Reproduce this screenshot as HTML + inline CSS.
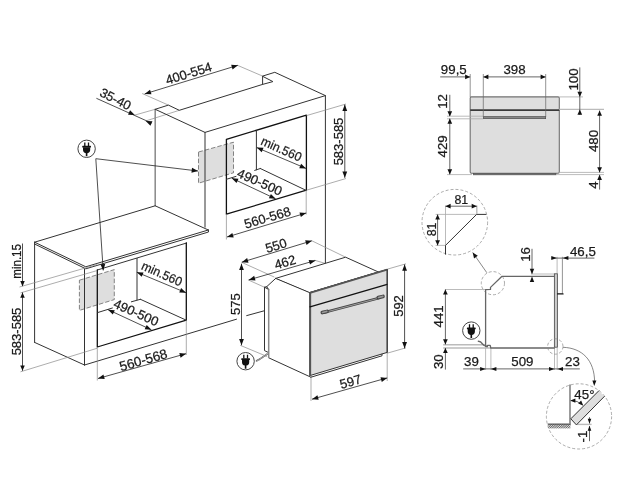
<!DOCTYPE html>
<html><head><meta charset="utf-8"><title>Oven installation dimensions</title>
<style>
html,body{margin:0;padding:0;background:#fff}
body{width:626px;height:500px;overflow:hidden}
svg{display:block;will-change:transform;opacity:0.999}
text{font-family:"Liberation Sans",Arial,Helvetica,sans-serif;fill:#1a1a1a;text-anchor:middle;stroke:#1a1a1a;stroke-width:0.25px}
.m{stroke:#333;stroke-width:1;fill:none;stroke-linecap:round;stroke-linejoin:round}
.k{stroke:#111;stroke-width:1.3;fill:none;stroke-linecap:round;stroke-linejoin:round}
.d{stroke:#222;stroke-width:0.8;fill:none}
.t{stroke:#8a8a8a;stroke-width:0.7;fill:none}
.a{fill:#111;stroke:none}
.dc{stroke:#888;stroke-width:0.7;fill:none;stroke-dasharray:3 2}
.g{fill:#dedede;stroke:#333;stroke-width:1;stroke-linejoin:round}
.s{fill:#dedede;stroke:#555;stroke-width:0.7;stroke-dasharray:4.5 2}
.k2{stroke:#555;stroke-width:1.9;fill:none}
.k3{stroke:#3a3a3a;stroke-width:1.7;fill:none}
.t6{stroke:#555;stroke-width:0.7;fill:none}
.g0{fill:#dedede;stroke:none}
.w{fill:#fff;stroke:none}
.t5{stroke:#666;stroke-width:0.7;fill:none}
.t4{stroke:#888;stroke-width:0.9;fill:none}
.gk{stroke:#888;stroke-width:1.5;fill:none}
.gk2{stroke:#666;stroke-width:1.3;fill:none;stroke-linejoin:round}
.dg{stroke:#666;stroke-width:1;fill:none}
.t2{stroke:#aaa;stroke-width:0.8;fill:none}
.t3{stroke:#bbb;stroke-width:1.4;fill:none}
</style></head><body>
<svg width="626" height="500" viewBox="0 0 626 500">
<rect width="626" height="500" fill="#fff"/>
<polygon class="s"  points="198.5,152 233.5,142.2 233.5,172.8 198.5,183.2"/>
<polygon class="s"  points="79.4,280.2 114.3,269.6 114.3,299.6 79.4,310.4"/>
<line class="t" x1="142.2" y1="93.5" x2="168.4" y2="105.1"/>
<line class="t" x1="134.8" y1="115.1" x2="155.2" y2="109.3"/>
<line class="t" x1="145.9" y1="120.9" x2="179.3" y2="110.3"/>
<line class="t" x1="237.7" y1="65.4" x2="262.6" y2="76.1"/>
<line class="gk" x1="155.2" y1="109.3" x2="155.2" y2="205.8"/>
<polyline class="m"  points="155.2,109.3 168.4,105.1 179.3,110.3 262.6,84.4 262.6,76.1 274.8,72.3 325.4,95.6 205,132.4 155.2,109.3"/>
<polyline class="m"  points="262.6,76.3 272.9,81.6 262.6,84.4"/>
<line class="m" x1="205" y1="132.4" x2="205" y2="227.2"/>
<line class="m" x1="325.4" y1="95.6" x2="325.4" y2="262.8"/>
<polygon class="k"  points="226.4,139.3 306.4,115.2 306.4,190.2 226.4,214.2"/>
<line class="m" x1="256.4" y1="130.8" x2="256.4" y2="169.8"/>
<line class="m" x1="260.3" y1="168.5" x2="306.2" y2="190.4"/>
<line class="m" x1="260.3" y1="168.5" x2="254.7" y2="170.4"/>
<line class="m" x1="236" y1="176.4" x2="226.4" y2="179.3"/>
<line class="d" x1="144.7" y1="93.9" x2="237.9" y2="65.3"/>
<polygon class="a"  points="237.9,65.3 232.58,69.44 231.17,64.85"/>
<polygon class="a"  points="144.7,93.9 150.02,89.76 151.43,94.35"/>
<text font-size="13" dy="0.36em" transform="translate(188.6 73.2) rotate(-17)">400-554</text>
<line class="d" x1="96.4" y1="98.3" x2="151.4" y2="123"/>
<polygon class="a"  points="134.8,115.1 128.07,114.71 130.04,110.33"/>
<polygon class="a"  points="145.7,120.9 152.43,121.29 150.46,125.67"/>
<text font-size="13" dy="0.36em" transform="translate(115.6 98.9) rotate(27)">35-40</text>
<line class="d" x1="256.8" y1="147.6" x2="306" y2="168.4"/>
<polygon class="a"  points="306,168.4 299.26,168.16 301.13,163.74"/>
<polygon class="a"  points="256.8,147.6 263.54,147.84 261.67,152.26"/>
<text font-size="12.6" dy="0.36em" transform="translate(281.5 148.8) rotate(24) scale(0.96 1)">min.560</text>
<line class="d" x1="231.8" y1="178.2" x2="275.6" y2="198.8"/>
<polygon class="a"  points="275.6,198.8 268.88,198.29 270.92,193.95"/>
<polygon class="a"  points="231.8,178.2 238.52,178.71 236.48,183.05"/>
<text font-size="13" dy="0.36em" transform="translate(259.8 181.9) rotate(24)">490-500</text>
<line class="t" x1="226.4" y1="214.2" x2="226.4" y2="239.5"/>
<line class="t" x1="306.2" y1="190.4" x2="306.2" y2="214.5"/>
<line class="d" x1="227" y1="237" x2="306.2" y2="213"/>
<polygon class="a"  points="306.2,213 300.87,217.12 299.47,212.53"/>
<polygon class="a"  points="227,237 232.33,232.88 233.73,237.47"/>
<text font-size="13" dy="0.36em" transform="translate(267.4 217.4) rotate(-16.5)">560-568</text>
<line class="t" x1="306.5" y1="115.6" x2="346" y2="104"/>
<line class="t" x1="306.5" y1="190.2" x2="346" y2="178.5"/>
<line class="d" x1="344.8" y1="104.6" x2="344.8" y2="177.8"/>
<polygon class="a"  points="344.8,177.8 342.4,171.5 347.2,171.5"/>
<polygon class="a"  points="344.8,104.6 347.2,110.9 342.4,110.9"/>
<text font-size="13" dy="0.36em" transform="translate(338.6 141.5) rotate(-90)">583-585</text>
<line class="m" x1="155.2" y1="205.8" x2="208.3" y2="230"/>
<polyline class="m"  points="34.6,242.2 155.2,205.8"/>
<polyline class="m"  points="34.6,242.2 85.8,266.8 208.3,230"/>
<polyline class="m"  points="34.6,244 85.8,268.8 208.5,232 208.3,230"/>
<line class="m" x1="34.6" y1="242.2" x2="34.6" y2="342.4"/>
<line class="m" x1="34.6" y1="342.4" x2="84.5" y2="365"/>
<line class="m" x1="84.5" y1="269" x2="84.5" y2="365"/>
<line class="m" x1="84.5" y1="365" x2="236.5" y2="319.2"/>
<line class="m" x1="246.7" y1="315.6" x2="264.2" y2="310.8"/>
<line class="m" x1="97.3" y1="270" x2="186.6" y2="243"/>
<polyline class="k"  points="97.3,270 97.3,347 186.3,320.2 186.3,243"/>
<line class="m" x1="137" y1="258.4" x2="137" y2="299.8"/>
<line class="m" x1="140.4" y1="299.3" x2="186.3" y2="320.2"/>
<line class="m" x1="140.4" y1="299.3" x2="131.4" y2="301.8"/>
<line class="m" x1="112.4" y1="308" x2="97.6" y2="312.6"/>
<line class="d" x1="136.8" y1="272.2" x2="186" y2="292.7"/>
<polygon class="a"  points="186,292.7 179.26,292.49 181.11,288.06"/>
<polygon class="a"  points="136.8,272.2 143.54,272.41 141.69,276.84"/>
<text font-size="12.6" dy="0.36em" transform="translate(162 273.5) rotate(24) scale(0.96 1)">min.560</text>
<line class="d" x1="108.1" y1="309.7" x2="151.4" y2="329.8"/>
<polygon class="a"  points="151.4,329.8 144.68,329.32 146.7,324.97"/>
<polygon class="a"  points="108.1,309.7 114.82,310.18 112.8,314.53"/>
<text font-size="13" dy="0.36em" transform="translate(136.2 312.4) rotate(24)">490-500</text>
<line class="t" x1="97.3" y1="347" x2="97.3" y2="380.5"/>
<line class="t" x1="186.3" y1="320.2" x2="186.3" y2="355"/>
<line class="d" x1="98" y1="378.5" x2="186" y2="353.7"/>
<polygon class="a"  points="186,353.7 180.59,357.72 179.29,353.1"/>
<polygon class="a"  points="98,378.5 103.41,374.48 104.71,379.1"/>
<text font-size="13.4" dy="0.36em" transform="translate(143.3 359.8) rotate(-16)">560-568</text>
<line class="t" x1="19.5" y1="287" x2="97" y2="264.6"/>
<line class="t" x1="20.5" y1="292.9" x2="97" y2="270.6"/>
<line class="t" x1="20.5" y1="371.8" x2="97" y2="348.3"/>
<line class="d" x1="22.5" y1="243.5" x2="22.5" y2="285.8"/>
<polygon class="a"  points="22.5,286.4 20.25,281 24.75,281"/>
<line class="d" x1="22.5" y1="292.4" x2="22.5" y2="370.8"/>
<polygon class="a"  points="22.5,370.8 20.25,365.4 24.75,365.4"/>
<polygon class="a"  points="22.5,292.4 24.75,297.8 20.25,297.8"/>
<text font-size="12.3" dy="0.36em" transform="translate(16.2 261.4) rotate(-90) scale(0.94 1)">min.15</text>
<text font-size="13" dy="0.36em" transform="translate(16 331.5) rotate(-90)">583-585</text>
<line class="d" x1="95.8" y1="158.7" x2="198" y2="171"/>
<polygon class="a"  points="198,171 191.46,172.64 192.03,167.87"/>
<line class="d" x1="95.8" y1="158.7" x2="103.2" y2="270.4"/>
<polygon class="a"  points="103.2,270.4 100.43,264.25 105.22,263.97"/>
<g transform="translate(86.6 148.8)"><circle r="8.7" fill="#fff" stroke="#444" stroke-width="1"/><path d="M-1.8,-6.4V-2.6M1.9,-6.4V-2.6" stroke="#111" stroke-width="1.3" fill="none"/><rect x="-4.4" y="-3" width="8.8" height="1.7" rx="0.6" fill="#111"/><path d="M-3.6,-1.5H3.6V1Q3.6,3.8 0.8,4.4V7.5H-0.8V4.4Q-3.6,3.8 -3.6,1Z" fill="#111"/></g>
<line class="t" x1="241.8" y1="262.4" x2="274.4" y2="277.1"/>
<line class="t" x1="248.2" y1="279.9" x2="264.8" y2="287.4"/>
<line class="t" x1="311.9" y1="240.8" x2="345.6" y2="257.2"/>
<line class="t" x1="314.5" y1="260.2" x2="325.5" y2="263.5"/>
<line class="t" x1="240.2" y1="345.3" x2="267.1" y2="356.5"/>
<line class="t" x1="387.2" y1="269.2" x2="406" y2="263.8"/>
<line class="t" x1="387.2" y1="353.2" x2="406" y2="347.8"/>
<line class="t" x1="311" y1="376" x2="311" y2="401"/>
<line class="t" x1="387.2" y1="353" x2="387.2" y2="381"/>
<polygon class="m" fill="#fff" points="275.7,278.4 345.6,257.2 378.4,272 309.6,292.6"/>
<polygon class="w"  points="275.7,278.4 266.7,286.7 268.7,289.5 268.7,357.8 309.6,376.6 309.6,292.6"/>
<polygon class="w"  points="264.5,287.2 268.7,289.5 268.7,352.6 264.5,350.6"/>
<polyline class="m"  points="268.7,352.6 264.5,350.6 264.5,287.2 268.7,289.5"/>
<polyline class="m"  points="268.7,289.5 266.7,286.7 275.7,278.4"/>
<line class="m" x1="266.7" y1="286.7" x2="264.5" y2="287.2"/>
<line class="m" x1="268.7" y1="357.8" x2="309.6" y2="376.6"/>
<line class="m" x1="275.7" y1="278.4" x2="309.6" y2="292.6"/>
<line class="gk" x1="268.7" y1="289.2" x2="268.7" y2="357.8"/>
<polygon class="g"  points="309.8,292.6 387.2,269.4 387.2,352.4 309.8,375.6"/>
<polyline class="m"  points="310.6,377.3 382,355.8 382,354.2"/>
<line class="k2" x1="310" y1="292.8" x2="387.2" y2="269.6"/>
<line class="k2" x1="310.2" y1="293" x2="310.2" y2="376.4"/>
<line class="k" x1="310" y1="306.8" x2="387.2" y2="284.4"/>
<line class="m" x1="387.2" y1="269.4" x2="387.2" y2="352.4"/>
<path d="M324,312.6L381,297.6" stroke="#444" stroke-width="2.6" fill="none"/>
<path d="M324,312.6L381,297.6" stroke="#aaa" stroke-width="0.9" fill="none"/>
<path d="M322.3,312.6L327,311.4M378.3,297.6L383,296.4" stroke="#444" stroke-width="3.6" stroke-linecap="round" fill="none"/>
<path d="M322.5,312.5L326.8,311.4M378.5,297.5L382.8,296.4" stroke="#999" stroke-width="1.6" stroke-linecap="round" fill="none"/>
<line class="d" x1="241.8" y1="262.2" x2="311.9" y2="240.8"/>
<polygon class="a"  points="311.9,240.8 306.58,244.93 305.17,240.34"/>
<polygon class="a"  points="241.8,262.2 247.12,258.07 248.53,262.66"/>
<text font-size="13" dy="0.36em" transform="translate(276 245.4) rotate(-16.5)">550</text>
<line class="d" x1="248.8" y1="279.9" x2="315.4" y2="260.5"/>
<polygon class="a"  points="315.4,260.5 310.02,264.57 308.68,259.96"/>
<polygon class="a"  points="248.8,279.9 254.18,275.83 255.52,280.44"/>
<text font-size="13" dy="0.36em" transform="translate(285 262) rotate(-16.5)">462</text>
<line class="d" x1="241.5" y1="263.7" x2="241.5" y2="345.3"/>
<polygon class="a"  points="241.5,345.3 239.1,339 243.9,339"/>
<polygon class="a"  points="241.5,263.7 243.9,270 239.1,270"/>
<text font-size="13" dy="0.36em" transform="translate(235.4 304.2) rotate(-90)">575</text>
<line class="d" x1="404.6" y1="264.4" x2="404.6" y2="348.4"/>
<polygon class="a"  points="404.6,348.4 402.2,342.1 407,342.1"/>
<polygon class="a"  points="404.6,264.4 407,270.7 402.2,270.7"/>
<text font-size="13" dy="0.36em" transform="translate(398.4 306) rotate(-90)">592</text>
<line class="d" x1="312" y1="399.2" x2="387.2" y2="377.9"/>
<polygon class="a"  points="387.2,377.9 381.79,381.93 380.48,377.31"/>
<polygon class="a"  points="312,399.2 317.41,395.17 318.72,399.79"/>
<text font-size="13" dy="0.36em" transform="translate(350.4 381.4) rotate(-16)">597</text>
<path d="M256.2,361.6c1.5,-2 2.5,-1.5 3.5,-2.5s2,-1 3,-2s2,-1 3,-2l2,-1.5" stroke="#555" stroke-width="1.6" fill="none"/>
<path d="M256.2,361.6c1.5,-2 2.5,-1.5 3.5,-2.5s2,-1 3,-2s2,-1 3,-2l2,-1.5" stroke="#ddd" stroke-width="0.6" fill="none"/>
<g transform="translate(245.6 361.2)"><circle r="8.7" fill="#fff" stroke="#444" stroke-width="1"/><path d="M-1.8,-6.4V-2.6M1.9,-6.4V-2.6" stroke="#111" stroke-width="1.3" fill="none"/><rect x="-4.4" y="-3" width="8.8" height="1.7" rx="0.6" fill="#111"/><path d="M-3.6,-1.5H3.6V1Q3.6,3.8 0.8,4.4V7.5H-0.8V4.4Q-3.6,3.8 -3.6,1Z" fill="#111"/></g>
<rect x="470.2" y="96.9" width="89.1" height="76.4" rx="1.2" fill="#dedede" stroke="#707070" stroke-width="1.1"/>
<rect x="473.4" y="173.3" width="82.6" height="1.6" fill="#777" stroke="#444" stroke-width="0.5"/>
<line class="k3" x1="470.2" y1="110.1" x2="559.3" y2="110.1"/>
<rect x="483.3" y="116.5" width="62.4" height="2.2" fill="#888" stroke="#444" stroke-width="0.6"/>
<line class="t5" x1="470.2" y1="74" x2="470.2" y2="97"/>
<line class="t5" x1="483.3" y1="74" x2="483.3" y2="117"/>
<line class="t5" x1="545.7" y1="74" x2="545.7" y2="117"/>
<line class="t2" x1="447" y1="116.2" x2="483.3" y2="116.2"/>
<line class="t2" x1="447" y1="118.8" x2="483.3" y2="118.8"/>
<line class="t2" x1="447" y1="174.6" x2="472" y2="174.6"/>
<line class="t2" x1="559.3" y1="96.9" x2="583" y2="96.9"/>
<line class="t3" x1="559.3" y1="109.4" x2="604" y2="109.4"/>
<line class="t2" x1="559.3" y1="172.4" x2="604" y2="172.4"/>
<line class="t2" x1="556" y1="174.6" x2="604" y2="174.6"/>
<line class="dg" x1="440.2" y1="76.9" x2="470.2" y2="76.9"/>
<polygon class="a"  points="470.2,76.9 465.1,79.25 465.1,74.55"/>
<line class="dg" x1="483.3" y1="76.9" x2="545.7" y2="76.9"/>
<polygon class="a"  points="545.7,76.9 540.6,79.25 540.6,74.55"/>
<polygon class="a"  points="483.3,76.9 488.4,74.55 488.4,79.25"/>
<text font-size="13.3" dy="0.36em" transform="translate(453.8 69.2)">99,5</text>
<text font-size="13.3" dy="0.36em" transform="translate(514.5 69.2)">398</text>
<line class="dg" x1="449.8" y1="94.8" x2="449.8" y2="116"/>
<polygon class="a"  points="449.8,116.4 447.45,111.3 452.15,111.3"/>
<line class="dg" x1="449.8" y1="118.6" x2="449.8" y2="174.4"/>
<polygon class="a"  points="449.8,174.4 447.45,169.3 452.15,169.3"/>
<polygon class="a"  points="449.8,118.6 452.15,123.7 447.45,123.7"/>
<text font-size="13.3" dy="0.36em" transform="translate(442.2 101.4) rotate(-90)">12</text>
<text font-size="13.3" dy="0.36em" transform="translate(442.6 146.4) rotate(-90)">429</text>
<line class="dg" x1="579.8" y1="67.4" x2="579.8" y2="96.9"/>
<polygon class="a"  points="579.8,96.9 577.45,91.8 582.15,91.8"/>
<line class="dg" x1="579.8" y1="96.9" x2="579.8" y2="115"/>
<polygon class="a"  points="579.8,109.6 582.15,114.7 577.45,114.7"/>
<text font-size="13.3" dy="0.36em" transform="translate(573.6 79.5) rotate(-90)">100</text>
<line class="dg" x1="599.6" y1="110.6" x2="599.6" y2="172.4"/>
<polygon class="a"  points="599.6,172.4 597.25,167.3 601.95,167.3"/>
<polygon class="a"  points="599.6,110.6 601.95,115.7 597.25,115.7"/>
<text font-size="13.3" dy="0.36em" transform="translate(593.4 141) rotate(-90)">480</text>
<line class="dg" x1="599.6" y1="174.8" x2="599.6" y2="189.6"/>
<polygon class="a"  points="599.6,174.8 601.95,179.9 597.25,179.9"/>
<text font-size="13.3" dy="0.36em" transform="translate(593.4 185) rotate(-90)">4</text>
<circle class="dc" cx="454.8" cy="222.2" r="32.8"/>
<line class="t2" x1="445.5" y1="205.6" x2="445.5" y2="245.3"/>
<line class="t3" x1="476.8" y1="205.5" x2="476.8" y2="213.8"/>
<line class="t2" x1="435.6" y1="214.4" x2="477.1" y2="214.4"/>
<line class="t2" x1="435.6" y1="245.4" x2="445.5" y2="245.4"/>
<polyline class="m"  points="445.5,254.2 445.5,245.4 476.6,214.4 486,214.4"/>
<line class="dg" x1="445.5" y1="206.2" x2="476.8" y2="206.2"/>
<polygon class="a"  points="476.8,206.2 471.7,208.55 471.7,203.85"/>
<polygon class="a"  points="445.5,206.2 450.6,203.85 450.6,208.55"/>
<text font-size="13.3" dy="0.36em" transform="translate(461.3 199.4) scale(0.93 1)">81</text>
<line class="dg" x1="437.6" y1="214.4" x2="437.6" y2="245.4"/>
<polygon class="a"  points="437.6,245.4 435.25,240.3 439.95,240.3"/>
<polygon class="a"  points="437.6,214.4 439.95,219.5 435.25,219.5"/>
<text font-size="13.3" dy="0.36em" transform="translate(431.2 229.4) rotate(-90) scale(0.93 1)">81</text>
<line class="t6" x1="472.7" y1="252.5" x2="486.8" y2="272.7"/>
<polygon class="a"  points="472.7,252.5 477.8,255.77 474.03,258.41"/>
<circle class="dc" cx="492.9" cy="283.2" r="11.6"/>
<line class="t2" x1="445" y1="289.5" x2="486" y2="289.5"/>
<line class="t3" x1="443.2" y1="344.8" x2="486" y2="344.8"/>
<line class="t3" x1="443.2" y1="348" x2="490.9" y2="348"/>
<line class="t2" x1="485.6" y1="348" x2="485.6" y2="370"/>
<line class="t2" x1="490.9" y1="348" x2="490.9" y2="370"/>
<line class="t2" x1="554.5" y1="348" x2="554.5" y2="370"/>
<line class="t2" x1="557.2" y1="348" x2="557.2" y2="370"/>
<line class="t2" x1="557.1" y1="256.8" x2="557.1" y2="273.6"/>
<line class="t4" x1="562.4" y1="256.8" x2="562.4" y2="293.6"/>
<line class="t2" x1="531" y1="274" x2="554.4" y2="274"/>
<polyline class="gk2"  points="554.4,276.3 502,276.3 490.5,287.4 490.5,289.4 485.6,289.6 485.6,345.6"/>
<polyline class="gk2"  points="485.6,345 485.6,346.6 487,346.6 487.6,345.4 490.2,345.4 490.8,348 554.8,348"/>
<rect x="554.4" y="273.8" width="3" height="73.4" fill="#ccc" stroke="#555" stroke-width="0.9"/>
<line class="k" x1="557.6" y1="293.9" x2="563" y2="293.9"/>
<line class="dg" x1="532" y1="248.8" x2="532" y2="273.4"/>
<polygon class="a"  points="532,274.2 529.8,268.7 534.2,268.7"/>
<polygon class="a"  points="532,276.6 534.2,282.1 529.8,282.1"/>
<text font-size="13.3" dy="0.36em" transform="translate(525.4 254.4) rotate(-90)">16</text>
<line class="dg" x1="551.2" y1="258.1" x2="594.4" y2="258.1"/>
<polygon class="a"  points="556.8,258.1 551.3,260.1 551.3,256.1"/>
<polygon class="a"  points="562.9,258.1 568.4,256.1 568.4,260.1"/>
<text font-size="13.3" dy="0.36em" transform="translate(582.9 250.8)">46,5</text>
<line class="dg" x1="445.4" y1="289.4" x2="445.4" y2="344.4"/>
<polygon class="a"  points="445.4,344.4 443.05,339.3 447.75,339.3"/>
<polygon class="a"  points="445.4,289.4 447.75,294.5 443.05,294.5"/>
<text font-size="13.3" dy="0.36em" transform="translate(438.4 316.4) rotate(-90)">441</text>
<line class="dg" x1="445.4" y1="348" x2="445.4" y2="369.6"/>
<polygon class="a"  points="445.4,348 447.75,353.1 443.05,353.1"/>
<text font-size="13.3" dy="0.36em" transform="translate(438.4 361.7) rotate(-90)">30</text>
<line class="dg" x1="463.2" y1="368.9" x2="579.8" y2="368.9"/>
<polygon class="a"  points="485.6,368.9 480.1,370.9 480.1,366.9"/>
<polygon class="a"  points="490.9,368.9 496.4,366.9 496.4,370.9"/>
<polygon class="a"  points="554.5,368.9 549,370.9 549,366.9"/>
<polygon class="a"  points="557.5,368.9 563,366.9 563,370.9"/>
<text font-size="13.3" dy="0.36em" transform="translate(471.5 361.7)">39</text>
<text font-size="13.3" dy="0.36em" transform="translate(522.4 361.7)">509</text>
<text font-size="13.3" dy="0.36em" transform="translate(572.4 361.7)">23</text>
<path d="M478.4,341.3c2,0 3,1 4,2.5s2,2.5 5,2.6" stroke="#666" stroke-width="1.5" fill="none" stroke-linecap="round"/>
<g transform="translate(471.3 330.6)"><circle r="8.7" fill="#fff" stroke="#444" stroke-width="1"/><path d="M-1.8,-6.4V-2.6M1.9,-6.4V-2.6" stroke="#111" stroke-width="1.3" fill="none"/><rect x="-4.4" y="-3" width="8.8" height="1.7" rx="0.6" fill="#111"/><path d="M-3.6,-1.5H3.6V1Q3.6,3.8 0.8,4.4V7.5H-0.8V4.4Q-3.6,3.8 -3.6,1Z" fill="#111"/></g>
<circle class="dc" cx="555.3" cy="346.5" r="7.7"/>
<path d="M563.1,347.3C582,348 594.5,360 594.6,382" class="t6"/>
<polygon class="a"  points="594.2,386 592.39,380.43 596.39,380.57"/>
<circle class="dc" cx="579" cy="416.4" r="32.6"/>
<defs><pattern id="h" width="1.6" height="1.6" patternUnits="userSpaceOnUse" patternTransform="rotate(45)"><rect width="1.6" height="1.6" fill="#ddd"/><rect width="0.8" height="1.6" fill="#666"/></pattern></defs>
<rect x="548.2" y="424.2" width="22.2" height="4.2" fill="url(#h)"/>
<line class="t3" x1="577" y1="424.4" x2="591.6" y2="424.4"/>
<line class="gk2" x1="570" y1="384.4" x2="570" y2="423.6"/>
<line class="m" x1="548.1" y1="424.1" x2="570.5" y2="424.1"/>
<polygon class="g0"  points="570.8,418.8 598.8,390.8 604.4,396.4 576.4,424.9"/>
<polyline class="m"  points="598.8,390.8 570.8,418.8 576.4,424.9 604.4,396.4"/>
<path d="M570.8,400.6Q577.5,400.2 582.6,405" class="dg"/>
<polygon class="a"  points="570.4,400.6 575.4,398.5 575.4,402.7"/>
<polygon class="a"  points="583.2,405.6 578.18,403.55 581.15,400.58"/>
<text font-size="13.3" dy="0.36em" transform="translate(584.4 394)">45°</text>
<line class="dg" x1="589.5" y1="417.2" x2="589.5" y2="423.4"/>
<polygon class="a"  points="589.5,423.8 587.7,418.8 591.3,418.8"/>
<line class="dg" x1="589.5" y1="426" x2="589.5" y2="441.2"/>
<polygon class="a"  points="589.5,425.8 591.3,430.8 587.7,430.8"/>
<text font-size="13.3" dy="0.36em" transform="translate(582.2 436.6) rotate(-90)">-1</text>
</svg>
</body></html>
